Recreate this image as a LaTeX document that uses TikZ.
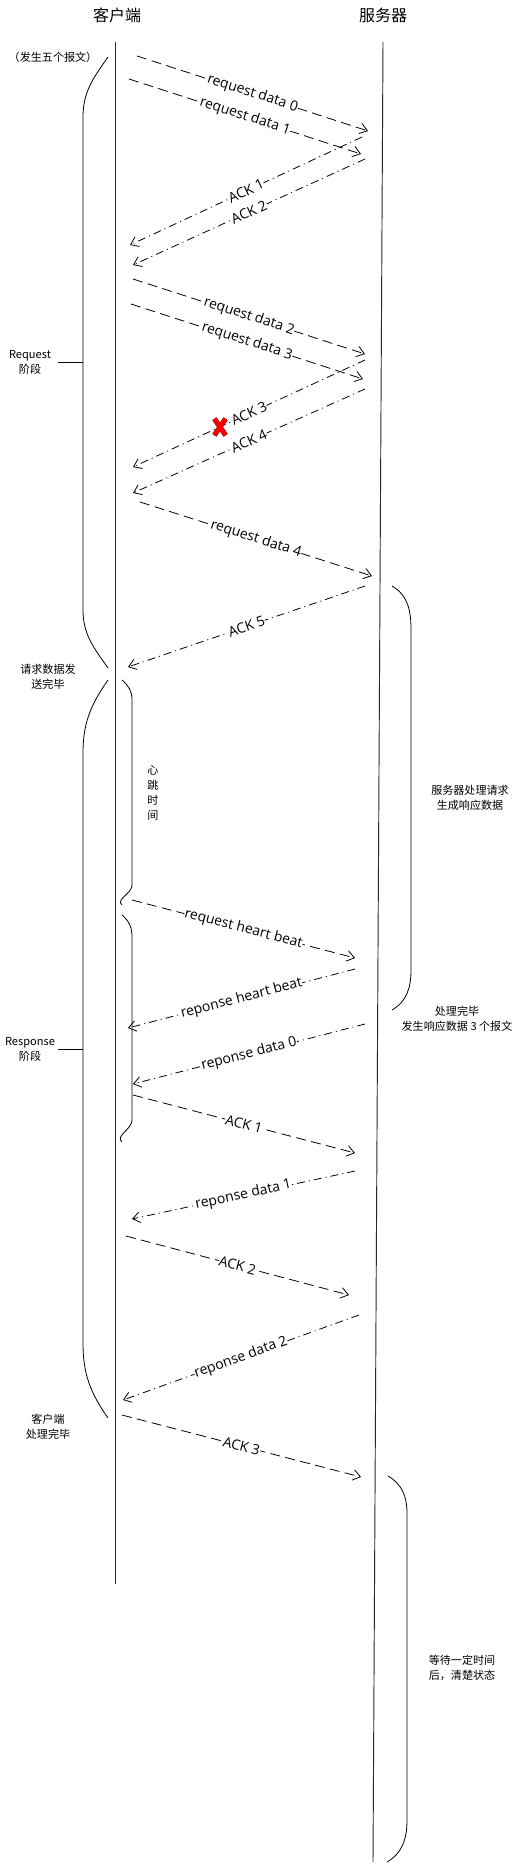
\documentclass[tikz,border=0pt]{standalone}
\usepackage{fontspec}
\setmainfont{Open Sans}
\newfontfamily\cjk{Noto Sans CJK SC}
\usetikzlibrary{arrows.meta,positioning,shapes.misc}

\begin{document}
\begin{tikzpicture}[
  x=0.75pt,y=-0.75pt,
  title/.style={font=\cjk\fontsize{12}{14}\selectfont,inner sep=0pt},
  note/.style={font=\cjk\fontsize{8.3}{11.2}\selectfont,align=center,inner sep=0pt},
  lbl/.style={font=\fontsize{10.5}{12}\selectfont,sloped,midway,fill=white,inner sep=0.3pt},
  life/.style={line width=0.7pt,color=black!85},
  brace/.style={line width=0.6pt},
  req/.style={-{Straight Barb[length=5.5pt,width=8pt]},line width=0.6pt,
              dash pattern=on 7.5pt off 4pt},
  ack/.style={-{Straight Barb[length=5.5pt,width=8pt]},line width=0.6pt,
              dash pattern=on 6pt off 3pt on 0.8pt off 3pt},
  lost/.style={cross out,draw=red!55!black,double=red,double distance=3pt,
               line width=0.4pt,minimum width=8pt,minimum height=12pt,inner sep=0pt}
]
  \useasboundingbox (0,0) rectangle (528,1867);

  \node[title] (cli) at (117,15) {客户端};
  \node[title] (srv) at (383,15) {服务器};

  \coordinate (cTop) at (115,42);  \coordinate (cEnd) at (115,1584);
  \coordinate (sTop) at (383,42);  \coordinate (sEnd) at (373,1862);
  \draw[life] (cTop)--(cEnd);
  \draw[life] (sTop)--(sEnd);

% ---------------- Request phase ----------------

  \coordinate (m1a) at (137,56);   \coordinate (m1b) at (368,131);
  \coordinate (m2a) at (129,79);   \coordinate (m2b) at (361,154);
  \coordinate (m3a) at (362,137);  \coordinate (m3b) at (130,245);
  \coordinate (m4a) at (365,159);  \coordinate (m4b) at (133,265);
  \coordinate (m5a) at (133,279);  \coordinate (m5b) at (365,354);
  \coordinate (m6a) at (131,304);  \coordinate (m6b) at (363,379);
  \coordinate (m7a) at (365,360);  \coordinate (m7b) at (133,467);
  \coordinate (m8a) at (365,389);  \coordinate (m8b) at (133,493);
  \coordinate (m9a) at (140,502);  \coordinate (m9b) at (372,576);
  \coordinate (m10a) at (365,586); \coordinate (m10b) at (128,667);

  \draw[req] (m1a)--node[lbl]{request data 0}(m1b);
  \draw[req] (m2a)--node[lbl]{request data 1}(m2b);
  \draw[ack] (m3a)--node[lbl]{ACK 1}(m3b);
  \draw[ack] (m4a)--node[lbl]{ACK 2}(m4b);
  \draw[req] (m5a)--node[lbl]{request data 2}(m5b);
  \draw[req] (m6a)--node[lbl]{request data 3}(m6b);
  \draw[ack] (m7a)--node[lbl]{ACK 3}(m7b);
  \node[lost] (x3) at (220,427) {};
  \draw[ack] (m8a)--node[lbl]{ACK 4}(m8b);
  \draw[req] (m9a)--node[lbl]{request data 4}(m9b);
  \draw[ack] (m10a)--node[lbl]{ACK 5}(m10b);

% ---------------- Response phase ----------------

  \coordinate (m11a) at (132,900); \coordinate (m11b) at (355,958);
  \coordinate (m12a) at (355,969); \coordinate (m12b) at (128,1028);
  \coordinate (m13a) at (365,1024); \coordinate (m13b) at (133,1084);
  \coordinate (m14a) at (133,1095); \coordinate (m14b) at (355,1153);
  \coordinate (m15a) at (355,1171); \coordinate (m15b) at (132,1219);
  \coordinate (m16a) at (126,1236); \coordinate (m16b) at (349,1295);
  \coordinate (m17a) at (359,1315); \coordinate (m17b) at (123,1400);
  \coordinate (m18a) at (122,1415); \coordinate (m18b) at (361,1477);

  \draw[req] (m11a)--node[lbl]{request heart beat}(m11b);
  \draw[ack] (m12a)--node[lbl]{reponse heart beat}(m12b);
  \draw[ack] (m13a)--node[lbl]{reponse data 0}(m13b);
  \draw[req] (m14a)--node[lbl]{ACK 1}(m14b);
  \draw[ack] (m15a)--node[lbl]{reponse data 1}(m15b);
  \draw[req] (m16a)--node[lbl]{ACK 2}(m16b);
  \draw[ack] (m17a)--node[lbl]{reponse data 2}(m17b);
  \draw[req] (m18a)--node[lbl]{ACK 3}(m18b);

% ---------------- Braces and notes ----------------

  \node[note] (five)    at (53,57)   {（发生五个报文）};
  \node[note] (reqph)   at (30,362)  {Request\\阶段};
  \node[note] (reqdone) at (48,677)  {请求数据发\\送完毕};
  \node[note] (resph)   at (30,1049) {Response\\阶段};
  \node[note] (clidone) at (48,1427) {客户端\\处理完毕};
  \node[note] (beat)    at (153,793) {心\\跳\\时\\间};
  \node[note] (work)    at (470,798) {服务器处理请求\\生成响应数据};
  \node[note] (done)    at (457,1019) {处理完毕\\发生响应数据 3 个报文};
  \node[note] (wait)    at (462,1668) {等待一定时间\\后，清楚状态};

  \draw[brace] (108,57) to[out=235,in=90] (83,117) -- (83,610) to[out=-90,in=125] (108,668);
  \draw[brace] (83,362) -- ++(-25,0);
  \draw[brace] (108,680) to[out=235,in=90] (83,753) -- (83,1343) to[out=-90,in=125] (108,1418);
  \draw[brace] (83,1049) -- ++(-25,0);

  \draw[brace] (122,680) to[out=-40,in=90] (132,700) -- (132,885) to[out=-90,in=140] (122,905);
  \draw[brace] (122,915) to[out=-40,in=90] (132,937) -- (132,1120) to[out=-90,in=140] (122,1142);

  \draw[brace] (392,586) to[out=-30,in=90] (411,630) -- (411,970) to[out=-90,in=30] (392,1010);
  \draw[brace] (388,1476) to[out=-30,in=90] (407,1513) -- (407,1820) to[out=-90,in=30] (387,1862);
\end{tikzpicture}
\end{document}
